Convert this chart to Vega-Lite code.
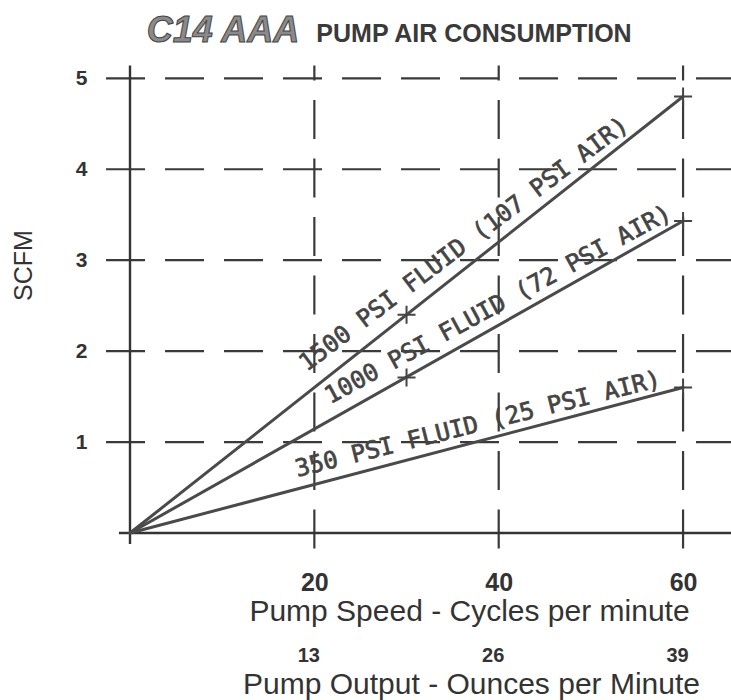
{
  "$schema": "https://vega.github.io/schema/vega-lite/v6.json",
  "width": 601,
  "height": 482,
  "autosize": {"type": "none"},
  "padding": {"left": 130, "top": 51, "right": 0, "bottom": 167},
  "background": "white",
  "config": {"view": {"stroke": null}},
  "datasets": {
    "lines": [
      {"series": "1500 PSI FLUID", "cycles": 0, "scfm": 0},
      {"series": "1500 PSI FLUID", "cycles": 60, "scfm": 4.8},
      {"series": "1000 PSI FLUID", "cycles": 0, "scfm": 0},
      {"series": "1000 PSI FLUID", "cycles": 60, "scfm": 3.43},
      {"series": "350 PSI FLUID", "cycles": 0, "scfm": 0},
      {"series": "350 PSI FLUID", "cycles": 60, "scfm": 1.6}
    ],
    "markers": [
      {"series": "1500 PSI FLUID", "cycles": 30, "scfm": 2.4},
      {"series": "1500 PSI FLUID", "cycles": 60, "scfm": 4.8},
      {"series": "1000 PSI FLUID", "cycles": 30, "scfm": 1.71},
      {"series": "1000 PSI FLUID", "cycles": 60, "scfm": 3.43},
      {"series": "350 PSI FLUID", "cycles": 60, "scfm": 1.6}
    ],
    "hgrid": [{"scfm": 1}, {"scfm": 2}, {"scfm": 3}, {"scfm": 4}, {"scfm": 5}],
    "vgrid": [{"cycles": 20}, {"cycles": 40}, {"cycles": 60}],
    "one": [{}]
  },
  "resolve": {"axis": {"x": "independent"}},
  "layer": [
    {
      "data": {"name": "hgrid"},
      "mark": {"type": "rule", "color": "#3a3a3a", "strokeWidth": 2.2, "strokeDash": [39, 20]},
      "encoding": {
        "y": {
          "field": "scfm", "type": "quantitative",
          "scale": {"domain": [0, 5.3], "nice": false, "zero": false},
          "axis": {
            "values": [1, 2, 3, 4, 5], "format": "d", "domain": false, "ticks": false, "tickSize": 0, "grid": false,
            "labelFont": "Liberation Sans", "labelFontWeight": "bold", "labelFontSize": 21,
            "labelColor": "#333", "labelPadding": 43,
            "title": "SCFM", "titleFont": "Liberation Sans", "titleFontWeight": "normal",
            "titleFontSize": 25, "titleColor": "#333", "titleBaseline": "alphabetic",
            "titleX": -99, "titleY": 214, "titleAlign": "center", "titleAngle": 270
          }
        },
        "x": {"datum": -2.6, "type": "quantitative", "axis": null},
        "x2": {"datum": 65.2}
      }
    },
    {
      "data": {"name": "vgrid"},
      "mark": {"type": "rule", "color": "#3a3a3a", "strokeWidth": 2.2, "strokeDash": [39, 19.5], "strokeDashOffset": 24},
      "encoding": {
        "x": {
          "field": "cycles", "type": "quantitative",
          "scale": {"domain": [0, 65.2], "nice": false, "zero": false},
          "axis": {
            "orient": "bottom", "values": [20, 40, 60], "domain": false, "ticks": false, "tickSize": 0, "grid": false,
            "labelFont": "Liberation Sans", "labelFontWeight": "bold", "labelFontSize": 25,
            "labelColor": "#333", "labelPadding": 57, "labelBaseline": "alphabetic",
            "title": "Pump Speed - Cycles per minute", "titleFont": "Liberation Sans",
            "titleFontWeight": "normal", "titleFontSize": 30, "titleColor": "#333",
            "titleBaseline": "alphabetic", "titleX": 339, "titleY": 87, "titleAlign": "center"
          }
        },
        "y": {"datum": 5.14, "type": "quantitative"},
        "y2": {"datum": -0.17}
      }
    },
    {
      "data": {"name": "one"},
      "mark": {"type": "rule", "color": "#333", "strokeWidth": 2.4},
      "encoding": {
        "x": {"datum": 0, "type": "quantitative", "axis": null},
        "y": {"datum": 5.14, "type": "quantitative"},
        "y2": {"datum": -0.12}
      }
    },
    {
      "data": {"name": "one"},
      "mark": {"type": "rule", "color": "#333", "strokeWidth": 2.4},
      "encoding": {
        "x": {"datum": -1.2, "type": "quantitative", "axis": null},
        "x2": {"datum": 65.2},
        "y": {"datum": 0, "type": "quantitative"}
      }
    },
    {
      "data": {"name": "lines"},
      "mark": {"type": "line", "color": "#4a4a4a", "strokeWidth": 3, "strokeCap": "round"},
      "encoding": {
        "x": {"field": "cycles", "type": "quantitative", "axis": null},
        "y": {"field": "scfm", "type": "quantitative"},
        "detail": {"field": "series"}
      }
    },
    {
      "data": {"name": "markers"},
      "mark": {"type": "point", "shape": "M-1,0H1M0,-1V1", "size": 324, "filled": false, "stroke": "#444", "strokeWidth": 2, "opacity": 1},
      "encoding": {
        "x": {
          "field": "cycles", "type": "quantitative",
          "axis": {
            "orient": "bottom", "values": [20, 40, 60], "labelExpr": "format(datum.value * 0.65, 'd')",
            "domain": false, "ticks": false, "tickSize": 0, "grid": false,
            "labelFont": "Liberation Sans", "labelFontWeight": "bold", "labelFontSize": 20,
            "labelColor": "#333", "labelPadding": 128, "labelBaseline": "alphabetic", "labelOffset": -6,
            "title": "Pump Output - Ounces per Minute", "titleFont": "Liberation Sans",
            "titleFontWeight": "normal", "titleFontSize": 30, "titleColor": "#333",
            "titleBaseline": "alphabetic", "titleX": 341, "titleY": 160, "titleAlign": "center"
          }
        },
        "y": {"field": "scfm", "type": "quantitative"}
      }
    },
    {
      "data": {"name": "one"},
      "mark": {"type": "text", "font": "DejaVu Sans Mono", "fontSize": 24, "fill": "#444", "stroke": "#444", "strokeWidth": 0.7, "align": "center", "baseline": "alphabetic", "angle": -37},
      "encoding": {
        "x": {"datum": 36.71, "type": "quantitative", "axis": null},
        "y": {"datum": 3.11, "type": "quantitative"},
        "text": {"value": "1500 PSI FLUID (107 PSI AIR)"}
      }
    },
    {
      "data": {"name": "one"},
      "mark": {"type": "text", "font": "DejaVu Sans Mono", "fontSize": 24, "fill": "#444", "stroke": "#444", "strokeWidth": 0.7, "align": "center", "baseline": "alphabetic", "angle": -28.5},
      "encoding": {
        "x": {"datum": 40.32, "type": "quantitative", "axis": null},
        "y": {"datum": 2.44, "type": "quantitative"},
        "text": {"value": "1000 PSI FLUID (72 PSI AIR)"}
      }
    },
    {
      "data": {"name": "one"},
      "mark": {"type": "text", "font": "DejaVu Sans Mono", "fontSize": 24, "fill": "#444", "stroke": "#444", "strokeWidth": 0.7, "align": "center", "baseline": "alphabetic", "angle": -14},
      "encoding": {
        "x": {"datum": 37.94, "type": "quantitative", "axis": null},
        "y": {"datum": 1.115, "type": "quantitative"},
        "text": {"value": "350 PSI FLUID (25 PSI AIR)"}
      }
    },
    {
      "data": {"name": "one"},
      "mark": {"type": "text", "font": "Liberation Sans", "fontSize": 36, "fontWeight": "bold", "fontStyle": "italic", "fill": "#8a8a8a", "stroke": "#444", "strokeWidth": 1, "align": "center", "baseline": "alphabetic"},
      "encoding": {
        "x": {"datum": 10.09, "type": "quantitative", "axis": null},
        "y": {"datum": 5.399, "type": "quantitative"},
        "text": {"value": "C14 AAA"}
      }
    },
    {
      "data": {"name": "one"},
      "mark": {"type": "text", "font": "Liberation Sans", "fontSize": 25, "fontWeight": "bold", "fill": "#3a3a3a", "align": "center", "baseline": "alphabetic"},
      "encoding": {
        "x": {"datum": 37.32, "type": "quantitative", "axis": null},
        "y": {"datum": 5.399, "type": "quantitative"},
        "text": {"value": "PUMP AIR CONSUMPTION"}
      }
    }
  ]
}
